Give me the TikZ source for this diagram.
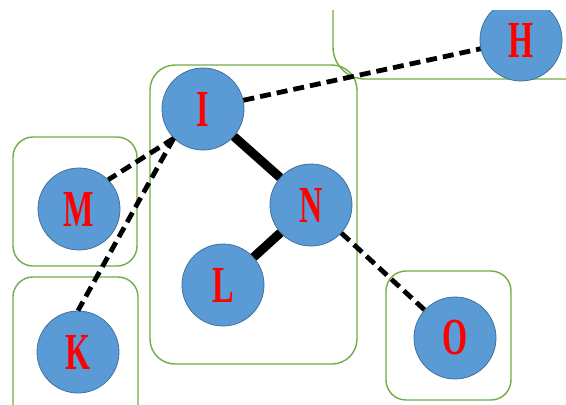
\documentclass[tikz,border=0pt]{standalone}
\usepackage{fontspec}
\usepackage{graphicx}
\setmainfont{Liberation Serif}
\definecolor{nodeblue}{HTML}{5B9BD5}
\definecolor{nodeborder}{HTML}{41719C}
\definecolor{boxgreen}{HTML}{70AD47}
\definecolor{letterred}{HTML}{FF0000}
\newcommand{\lettr}[1]{\scalebox{0.62}[1]{#1}}
\begin{document}
\begin{tikzpicture}[x=1pt,y=-1pt,
  vert/.style={circle, fill=nodeblue, draw=nodeborder, line width=0.8pt,
    minimum size=82pt, inner sep=0pt, text=letterred,
    font=\fontsize{52}{52}\selectfont\bfseries},
  groupbox/.style={draw=boxgreen, line width=1.4pt, rounded corners=20pt},
  dashedge/.style={line width=4.8pt, dash pattern=on 11pt off 6pt},
  solidedge/.style={line width=9pt}]
\useasboundingbox (0,0) rectangle (566,405);
\clip (0,10) rectangle (566,405);
% group boxes
\draw[groupbox, rounded corners=32pt] (333,-60) rectangle (640,79);
\draw[groupbox, rounded corners=25pt] (150,65) rectangle (357,364);
\draw[groupbox] (13,137) rectangle (137,266);
\draw[groupbox] (13,277) rectangle (138,440);
\draw[groupbox] (386,271) rectangle (511,400);
% vertices
\node[vert] (H) at (521,40) {\lettr{H}};
\node[vert] (I) at (203,109) {\lettr{I}};
\node[vert] (N) at (311,205) {\lettr{N}};
\node[vert] (L) at (223,285) {\lettr{L}};
\node[vert] (M) at (79,209) {\lettr{M}};
\node[vert] (K) at (78,352) {\lettr{K}};
\node[vert] (O) at (455,338) {\lettr{O}};
% edges
\draw[dashedge] (I) -- (H);
\draw[dashedge] (I.south west) -- (M.north east);
\draw[dashedge] (I.south west) -- (K.north);
\draw[dashedge] (N) -- (O);
\draw[solidedge] (I) -- (N);
\draw[solidedge] (N) -- (L);
\end{tikzpicture}
\end{document}
